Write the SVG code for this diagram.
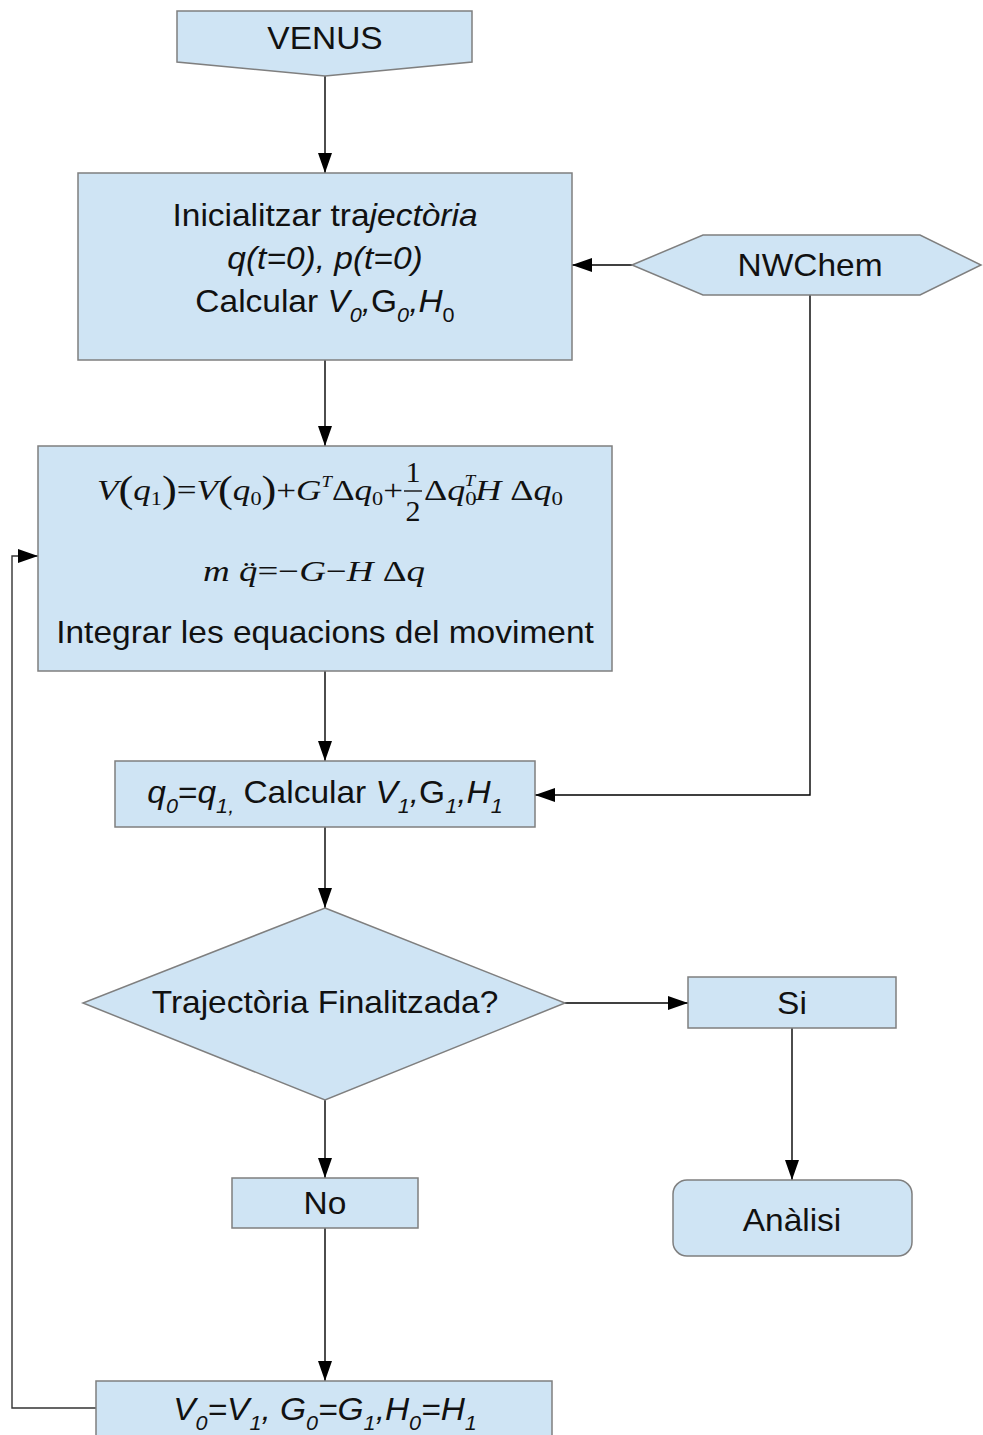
<svg xmlns="http://www.w3.org/2000/svg" width="983" height="1435" viewBox="0 0 983 1435">
<defs>
<marker id="arr" viewBox="0 0 20 14" markerWidth="20" markerHeight="14" refX="20" refY="7" orient="auto" markerUnits="userSpaceOnUse">
<path d="M0,0 L20,7 L0,14 z" fill="#000"/>
</marker>
<style>
.shape{fill:#cfe4f4;stroke:#7f7f7f;stroke-width:1.5}
.con{fill:none;stroke:#000;stroke-width:1.4;marker-end:url(#arr)}
.t{font-family:"Liberation Sans",Arial,sans-serif;font-size:31px;fill:#111;text-anchor:middle}
.i{font-style:italic}
.s{font-size:20px}
.eq{font-family:"Liberation Serif","Times New Roman",serif;font-size:30px;fill:#111}
</style>
</defs>
<rect width="983" height="1435" fill="#fff"/>

<g id="connectors">
<path class="con" d="M325,76 V173"/>
<path class="con" d="M632,265 H572"/>
<path class="con" d="M325,360 V446"/>
<path class="con" d="M810,295 V795 H535"/>
<path class="con" d="M325,671 V761"/>
<path class="con" d="M325,827 V908"/>
<path class="con" d="M565,1003 H688"/>
<path class="con" d="M792,1028 V1180"/>
<path class="con" d="M325,1100 V1178"/>
<path class="con" d="M325,1228 V1381"/>
<path class="con" d="M96,1408 H12 V556 H38" style="stroke:#333"/>
</g>

<g id="venus">
<path class="shape" d="M177,11 H472 V62 L325,76 L177,62 Z"/>
<text class="t" transform="translate(325 49) scale(1.08 1)">VENUS</text>
</g>

<g id="init">
<rect class="shape" x="78" y="173" width="494" height="187"/>
<text class="t" transform="translate(325 226) scale(1.08 1)">Inicialitzar tra<tspan class="i">jectòria</tspan></text>
<text class="t i" transform="translate(325 269) scale(1.08 1)">q(t=0), p(t=0)</text>
<text class="t" transform="translate(325 312) scale(1.08 1)">Calcular <tspan class="i">V</tspan><tspan class="s i" dy="10">0</tspan><tspan class="i" dy="-10">,</tspan>G<tspan class="s i" dy="10">0</tspan><tspan class="i" dy="-10">,</tspan><tspan class="i">H</tspan><tspan class="s" dy="10">0</tspan></text>
</g>

<g id="nwchem">
<path class="shape" d="M632,265 L703,235 H920 L981,265 L920,295 H703 Z"/>
<text class="t" transform="translate(810 276) scale(1.08 1)">NWChem</text>
</g>

<g id="integrate">
<rect class="shape" x="38" y="446" width="574" height="225"/>
<text class="eq" x="97" y="500" textLength="306" lengthAdjust="spacingAndGlyphs"><tspan font-style="italic">V</tspan><tspan font-size="38" dy="2">(</tspan><tspan font-style="italic" dy="-2">q</tspan><tspan font-size="19" dy="5">1</tspan><tspan font-size="38" dy="-3">)</tspan><tspan dy="-2">=</tspan><tspan font-style="italic">V</tspan><tspan font-size="38" dy="2">(</tspan><tspan font-style="italic" dy="-2">q</tspan><tspan font-size="19" dy="5">0</tspan><tspan font-size="38" dy="-3">)</tspan><tspan dy="-2">+</tspan><tspan font-style="italic">G</tspan><tspan font-style="italic" font-size="16" dy="-13">T</tspan><tspan dy="13">Δ</tspan><tspan font-style="italic">q</tspan><tspan font-size="19" dy="5">0</tspan><tspan dy="-5">+</tspan></text>
<text class="eq" x="413" y="482" text-anchor="middle">1</text>
<line x1="404" y1="491" x2="422" y2="491" stroke="#111" stroke-width="1.4"/>
<text class="eq" x="413" y="521" text-anchor="middle">2</text>
<text class="eq" x="424" y="500" textLength="139" lengthAdjust="spacingAndGlyphs">Δ<tspan font-style="italic">q</tspan><tspan font-size="19" dy="5">0</tspan><tspan font-style="italic" font-size="16" dx="-10" dy="-19">T</tspan><tspan font-style="italic" dy="14">H</tspan> Δ<tspan font-style="italic">q</tspan><tspan font-size="19" dy="5">0</tspan></text>
<text class="eq" x="203" y="581" textLength="222" lengthAdjust="spacingAndGlyphs"><tspan font-style="italic">m q̈</tspan>=−<tspan font-style="italic">G</tspan>−<tspan font-style="italic">H </tspan>Δ<tspan font-style="italic">q</tspan></text>
<text class="t" transform="translate(325 643) scale(1.08 1)">Integrar les equacions del moviment</text>
</g>

<g id="update">
<rect class="shape" x="115" y="761" width="420" height="66"/>
<text class="t" transform="translate(325 803) scale(1.08 1)"><tspan class="i">q</tspan><tspan class="s i" dy="10">0</tspan><tspan dy="-10">=</tspan><tspan class="i">q</tspan><tspan class="s i" dy="10">1,</tspan><tspan dy="-10"> Calcular </tspan><tspan class="i">V</tspan><tspan class="s i" dy="10">1</tspan><tspan class="i" dy="-10">,</tspan>G<tspan class="s i" dy="10">1</tspan><tspan class="i" dy="-10">,</tspan><tspan class="i">H</tspan><tspan class="s i" dy="10">1</tspan></text>
</g>

<g id="decision">
<path class="shape" d="M325,908 L565,1003 L325,1100 L83,1003 Z"/>
<text class="t" transform="translate(325 1013) scale(1.08 1)">Trajectòria Finalitzada?</text>
</g>

<g id="si">
<rect class="shape" x="688" y="977" width="208" height="51"/>
<text class="t" transform="translate(792 1014) scale(1.08 1)">Si</text>
</g>

<g id="analisi">
<rect class="shape" x="673" y="1180" width="239" height="76" rx="14" ry="14"/>
<text class="t" transform="translate(792 1231) scale(1.08 1)">Anàlisi</text>
</g>

<g id="no">
<rect class="shape" x="232" y="1178" width="186" height="50"/>
<text class="t" transform="translate(325 1214) scale(1.08 1)">No</text>
</g>

<g id="reset">
<rect class="shape" x="96" y="1381" width="456" height="60"/>
<text class="t i" transform="translate(325 1420) scale(1.08 1)">V<tspan class="s" dy="10">0</tspan><tspan dy="-10">=V</tspan><tspan class="s" dy="10">1</tspan><tspan dy="-10">, G</tspan><tspan class="s" dy="10">0</tspan><tspan dy="-10">=G</tspan><tspan class="s" dy="10">1</tspan><tspan dy="-10">,H</tspan><tspan class="s" dy="10">0</tspan><tspan dy="-10">=H</tspan><tspan class="s" dy="10">1</tspan></text>
</g>
</svg>
